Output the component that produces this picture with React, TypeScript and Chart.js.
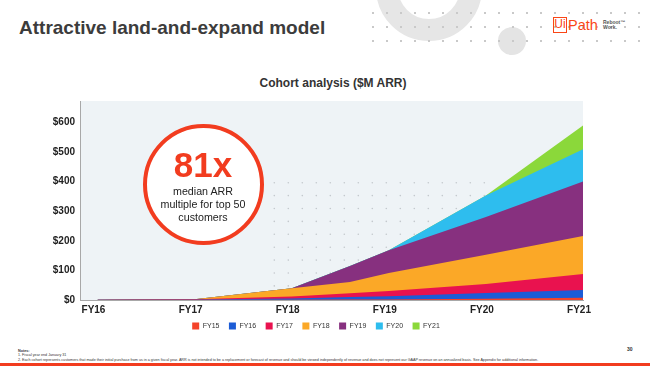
import React, { useEffect, useRef } from "react";
import { Chart, registerables } from "chart.js";

Chart.register(...registerables);

// ---- Data ----
const xLabels = ["FY16", "FY17", "FY18", "FY19", "FY20", "FY21"];
// time positions of the readings (0 = FY16 ... 5 = FY21), one extra reading inside FY18
const periods = [0, 1, 2, 2.6, 3, 4, 5];
const cohorts = ["FY15", "FY16", "FY17", "FY18", "FY19", "FY20", "FY21"];
const fy15 = [0.3, 0.5, 1, 1.5, 2, 4, 8];
const fy16 = [0.5, 1.5, 4, 8.5, 11, 20, 26];
const fy17 = [0, 0.5, 7, 12.5, 17, 30, 54];
const fy18 = [0, 0, 28, 38, 61, 99, 128];
const fy19 = [0, 0, 0, 54.5, 77, 127, 184];
const fy20 = [0, 0, 0, 0, 0, 73, 109];
const fy21 = [0, 0, 0, 0, 0, 0, 80];
const yTicks = [0, 100, 200, 300, 400, 500, 600];
const colors = ["#f4432a", "#1c5cd6", "#e9124f", "#fba827", "#87307f", "#2ebdee", "#8bd83a"];

const FONT = "'Liberation Sans', Arial, Helvetica, sans-serif";

const plotBg = {
  id: "plotBg",
  beforeDraw(chart: any) {
    const { ctx, chartArea: a } = chart;
    ctx.save();
    ctx.fillStyle = "#eef3f6";
    ctx.fillRect(a.left, a.top, a.right - a.left, a.bottom - a.top);
    ctx.fillStyle = "#c3c8cc";
    for (let c = 0; c < 16; c++) {
      for (let r = 0; r < 9; r++) {
        ctx.beginPath();
        ctx.arc(a.left + 194.3 + c * 14, a.top + 81.7 + r * 12.9, 0.8, 0, Math.PI * 2);
        ctx.fill();
      }
    }
    ctx.restore();
  },
};

export default function App() {
  const ref = useRef<HTMLCanvasElement>(null);

  useEffect(() => {
    const series = [fy15, fy16, fy17, fy18, fy19, fy20, fy21];
    const chart = new Chart(ref.current as HTMLCanvasElement, {
      type: "line",
      data: {
        datasets: cohorts.map((name, i) => ({
          label: name,
          data: periods.map((p, j) => ({ x: p, y: series[i][j] })),
          backgroundColor: colors[i],
          borderColor: colors[i],
          borderWidth: 0,
          pointRadius: 0,
          fill: "origin",
          tension: 0,
        })),
      },
      options: {
        animation: false,
        responsive: false,
        maintainAspectRatio: false,
        devicePixelRatio: 1,
        layout: { padding: { left: 29, right: 29, top: 10, bottom: 0.5 } },
        scales: {
          x: {
            type: "linear",
            min: -0.18,
            max: 5,
            grid: { display: false, drawTicks: false },
            border: { display: true, color: "#a8a8a8", width: 1 },
            afterBuildTicks: (s: any) => {
              s.ticks = xLabels.map((_, i) => ({ value: i }));
            },
            afterFit: (s: any) => {
              s.height = 13;
            },
            ticks: {
              autoSkip: false,
              maxRotation: 0,
              padding: 4,
              labelOffset: -4,
              color: "#222",
              font: { family: FONT, size: 10, weight: "bold" },
              callback: (v: any) => xLabels[v] ?? "",
            },
          },
          y: {
            stacked: true,
            min: 0,
            max: 672,
            grid: { display: false, drawTicks: false },
            border: { display: true, color: "#a8a8a8", width: 1 },
            afterBuildTicks: (s: any) => {
              s.ticks = yTicks.map((v) => ({ value: v }));
            },
            afterFit: (s: any) => {
              s.width = 31;
            },
            ticks: {
              padding: 5,
              color: "#222",
              font: { family: FONT, size: 10, weight: "bold" },
              callback: (v: any) => "$" + v,
            },
          },
        },
        plugins: {
          legend: {
            position: "bottom",
            labels: {
              boxWidth: 7,
              boxHeight: 7,
              padding: 9.5,
              color: "#333",
              font: { family: FONT, size: 7 },
            },
          },
          tooltip: { enabled: false },
          title: { display: false },
        },
      },
      plugins: [plotBg],
    } as any);
    return () => chart.destroy();
  }, []);

  const abs = (o: React.CSSProperties): React.CSSProperties => ({ position: "absolute", ...o });

  return (
    <div style={abs({ left: 0, top: 0, width: 650, height: 366, background: "#fff", overflow: "hidden", fontFamily: FONT })}>
      {/* decorative ring, dot grid and small circle */}
      <div style={abs({ left: 376, top: -65, width: 106, height: 106, borderRadius: "50%", border: "22px solid #e6e6e6", boxSizing: "border-box" })} />
      <div style={abs({ left: 498, top: 27, width: 28, height: 28, borderRadius: "50%", background: "#e4e4e4" })} />
      <div
        style={abs({
          left: 365.7,
          top: 5.7,
          width: 280,
          height: 42,
          backgroundImage: "radial-gradient(circle at 7px 7px, #c9c9c9 0.9px, rgba(255,255,255,0) 1.2px)",
          backgroundSize: "14px 14px",
        })}
      />

      {/* title */}
      <div style={abs({ left: 19, top: 15.5, fontSize: 19, lineHeight: "24px", fontWeight: "bold", color: "#3c3c3c", whiteSpace: "nowrap" })}>
        Attractive land-and-expand model
      </div>

      {/* logo */}
      <div style={abs({ left: 553, top: 17, width: 14, height: 16, border: "1.5px solid #fa4616", boxSizing: "border-box", color: "#fa4616", fontSize: 12, lineHeight: "13px", textAlign: "center" })}>
        Ui
      </div>
      <div style={abs({ left: 568, top: 16, fontSize: 14.5, lineHeight: "18px", color: "#fa4616", whiteSpace: "nowrap" })}>Path</div>
      <div style={abs({ left: 603, top: 19.5, fontSize: 5, lineHeight: "5.5px", color: "#555", fontWeight: "bold", whiteSpace: "nowrap" })}>
        Reboot™
        <br />
        Work.
      </div>

      {/* chart title */}
      <div style={abs({ left: 233, top: 75, width: 200, textAlign: "center", fontSize: 12, lineHeight: "16px", fontWeight: "bold", color: "#333" })}>
        Cohort analysis ($M ARR)
      </div>

      <canvas ref={ref} width={592} height={250} style={abs({ left: 20, top: 90, width: 592, height: 250 })} />

      {/* callout */}
      <div style={abs({ left: 142.5, top: 124, width: 121, height: 121, borderRadius: "50%", border: "4px solid #f23c1f", background: "#fff", boxSizing: "border-box" })} />
      <div style={abs({ left: 143, top: 145, width: 120, textAlign: "center", fontSize: 35, lineHeight: "40px", fontWeight: "bold", color: "#f23c1f" })}>81x</div>
      <div style={abs({ left: 143, top: 185, width: 120, textAlign: "center", fontSize: 10.7, lineHeight: "13px", color: "#222" })}>
        median ARR
        <br />
        multiple for top 50
        <br />
        customers
      </div>

      {/* footnotes */}
      <div style={abs({ left: 18, top: 348.5, fontSize: 3.7, lineHeight: "4.5px", color: "#333", whiteSpace: "nowrap" })}>
        <b>Notes:</b>
        <br />
        1. Fiscal year end January 31
        <br />
        2. Each cohort represents customers that made their initial purchase from us in a given fiscal year. ARR is not intended to be a replacement or forecast of revenue and should be viewed independently of revenue and does not represent our GAAP revenue on an annualized basis. See Appendix for additional information.
      </div>
      <div style={abs({ left: 627, top: 346, fontSize: 5, lineHeight: "6px", fontWeight: "bold", color: "#333" })}>30</div>
      <div style={abs({ left: 0, top: 363, width: 650, height: 3, background: "#f23c1f" })} />
    </div>
  );
}
